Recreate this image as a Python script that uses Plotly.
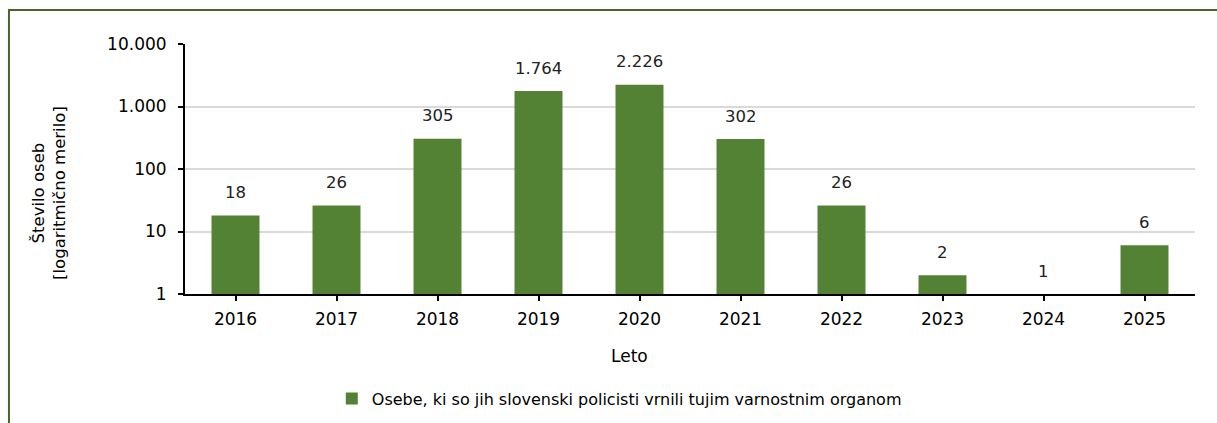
import math
import plotly.graph_objects as go

years = ["2016", "2017", "2018", "2019", "2020", "2021", "2022", "2023", "2024", "2025"]
persons = [18, 26, 305, 1764, 2226, 302, 26, 2, 1, 6]
series_name = "Osebe, ki so jih slovenski policisti vrnili tujim varnostnim organom"

font_family = "Tahoma, DejaVu Sans, sans-serif"

fig = go.Figure()
fig.add_trace(go.Bar(
    x=years, y=persons, name=series_name,
    marker=dict(color="#548235", line=dict(width=0)),
    hoverinfo="x+y",
))

# data labels above the bars (category index for x, log units for y)
for i, v in enumerate(persons):
    fig.add_annotation(x=i, y=math.log10(v), text=f"{v:,}".replace(",", "."),
                       showarrow=False, yshift=23,
                       font=dict(size=16.5, color="#222222"))

# x axis title, centred on the whole chart rather than the plot area
fig.add_annotation(xref="paper", yref="paper", x=0.44, y=-0.248, text="Leto",
                   showarrow=False, font=dict(size=17), yanchor="middle")

# y axis title, sits a bit below the middle of the axis
fig.add_annotation(xref="paper", yref="paper", x=-0.1347, y=0.404,
                   text="Število oseb<br>[logaritmično merilo]", textangle=-90,
                   showarrow=False, font=dict(size=16.5), xanchor="center", yanchor="middle")

# green frame around the chart
fig.add_shape(type="rect", xref="paper", yref="paper",
              x0=-0.1743, x1=2, y0=-2, y1=1.136,
              line=dict(color="#4f6228", width=2), fillcolor="rgba(0,0,0,0)")

fig.update_layout(
    width=1217, height=423,
    margin=dict(l=185, r=22, t=44, b=129),
    paper_bgcolor="white", plot_bgcolor="white",
    font=dict(family=font_family, size=15, color="#000000"),
    separators=",.",
    bargap=0.525,
    showlegend=True,
    legend=dict(orientation="h", x=0.43, xanchor="center",
                yref="container", y=0.098, yanchor="top",
                font=dict(size=16), itemwidth=30),
    xaxis=dict(
        type="category", range=[-0.5, len(years) - 0.5],
        showline=True, linecolor="#000000", linewidth=2,
        ticks="outside", ticklen=5, tickcolor="#000000", tickwidth=2,
        tickfont=dict(size=17), ticklabelstandoff=4,
        showgrid=False, automargin=False,
    ),
    yaxis=dict(
        type="log", range=[0, 4],
        tickvals=[1, 10, 100, 1000, 10000], tickformat=",d",
        showline=True, linecolor="#000000", linewidth=2,
        ticks="outside", ticklen=5, tickcolor="#000000", tickwidth=2,
        tickfont=dict(size=17), ticklabelstandoff=8,
        showgrid=True, gridcolor="#d9d9d9", gridwidth=2,
        zeroline=False, automargin=False,
    ),
)

fig.write_html("out.html", config={"displayModeBar": False},
               post_script="document.body.style.margin='0';")
